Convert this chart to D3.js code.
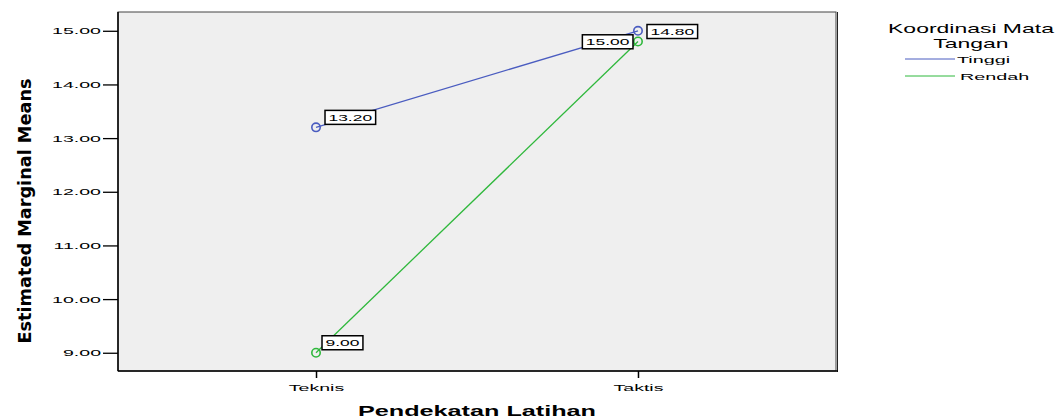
<!DOCTYPE html>
<html><head><meta charset="utf-8">
<script src="https://cdn.jsdelivr.net/npm/d3@7"></script>
<style>html,body{margin:0;padding:0;background:#fff;}svg{display:block;}</style>
</head><body>
<svg id="chart" width="1062" height="419"></svg>
<script>
const categories = ["Teknis", "Taktis"];
const seriesNames = ["Tinggi", "Rendah"];
const tinggiValues = [13.20, 15.00];
const rendahValues = [9.00, 14.80];
const yTicks = [9, 10, 11, 12, 13, 14, 15];
const xTitle = "Pendekatan Latihan";
const yTitle = "Estimated Marginal Means";
const legendTitle = ["Koordinasi Mata", "Tangan"];

const colors = ["#4a5cc0", "#2fb83c"];
const series = [
  {name: seriesNames[0], values: tinggiValues, color: colors[0]},
  {name: seriesNames[1], values: rendahValues, color: colors[1]}
];

const svg = d3.select("#chart");
const L = 118, R = 836, T = 12, B = 371;
const font = "Arial, 'Liberation Sans', sans-serif";

const x = d3.scalePoint().domain(categories).range([L, R]).padding(0.615);
const y = d3.scaleLinear().domain([8.66, 15.35]).range([B, T]);

function stretch(sel, sx) {
  sel.each(function() {
    const n = this.getComputedTextLength();
    d3.select(this).attr("textLength", n * sx).attr("lengthAdjust", "spacingAndGlyphs");
  });
}

// plot background
svg.append("rect").attr("x", L).attr("y", T).attr("width", R - L).attr("height", B - T)
  .attr("fill", "#efefef").attr("stroke", "#444").attr("stroke-width", 1);
svg.append("line").attr("x1", R + 1.5).attr("x2", R + 1.5).attr("y1", T).attr("y2", B + 1)
  .attr("stroke", "#222").attr("stroke-width", 1);

// y axis
const yAxis = d3.axisLeft(y).tickValues(yTicks).tickFormat(d3.format(".2f")).tickSize(15).tickPadding(2);
const gy = svg.append("g").attr("transform", `translate(${L},0)`).call(yAxis);
gy.select(".domain").attr("stroke", "#000").attr("stroke-width", 1.5).attr("d", `M0,${T}V${B}`);
gy.selectAll(".tick line").attr("stroke", "#000").attr("stroke-width", 1.3);
gy.selectAll(".tick text").attr("font-family", font).attr("font-size", 8.5).attr("fill", "#000")
  .attr("dy", "0.35em").call(stretch, 2.3);

// x axis
const xAxis = d3.axisBottom(x).tickSize(7).tickPadding(7);
const gx = svg.append("g").attr("transform", `translate(0,${B})`).call(xAxis);
gx.select(".domain").attr("stroke", "#000").attr("stroke-width", 1.5).attr("d", `M${L},0H${R + 2}`);
gx.selectAll(".tick line").attr("stroke", "#000").attr("stroke-width", 1.5);
gx.selectAll(".tick text").attr("font-family", font).attr("font-size", 8.5).attr("fill", "#000")
  .call(stretch, 2.3);

// titles
svg.append("text").attr("x", (L + R) / 2).attr("y", 416).attr("text-anchor", "middle")
  .attr("font-family", font).attr("font-weight", "bold").attr("font-size", 14).attr("fill", "#000")
  .text(xTitle).call(stretch, 1.8);
svg.append("text").attr("transform", "translate(31,211) rotate(-90)").attr("text-anchor", "middle")
  .attr("font-family", "'Liberation Sans Narrow', 'DejaVu Sans Condensed', 'Roboto Condensed', sans-serif")
  .attr("font-weight", "bold").attr("font-size", 18).attr("fill", "#000")
  .attr("textLength", 265).attr("lengthAdjust", "spacingAndGlyphs")
  .text(yTitle);

// lines
const line = d3.line().x((d, i) => x(categories[i])).y(d => y(d));
svg.append("g").selectAll("path").data(series).join("path")
  .attr("d", d => line(d.values)).attr("fill", "none")
  .attr("stroke", d => d.color).attr("stroke-width", 1.3);

// markers
series.forEach(s => {
  svg.append("g").selectAll("circle").data(s.values).join("circle")
    .attr("cx", (d, i) => x(categories[i])).attr("cy", d => y(d)).attr("r", 4.2)
    .attr("fill", "none").attr("stroke", s.color).attr("stroke-width", 1.6);
});

// data labels (placement: default right-up, collision case left-down)
function placement(si, ci) {
  if (si === 0 && ci === 1) return {side: "left", dx: -5, dy: 4};
  return {side: "right", dx: si === 1 && ci === 0 ? 6 : 9, dy: -17};
}
const lblG = svg.append("g");
series.forEach((s, si) => {
  s.values.forEach((v, ci) => {
    const px = x(categories[ci]), py = y(v);
    const p = placement(si, ci);
    const g = lblG.append("g");
    const t = g.append("text").attr("font-family", font).attr("font-size", 8.5).attr("fill", "#000")
      .text(d3.format(".2f")(v));
    stretch(t, 2.05);
    const tw = +t.attr("textLength");
    const bw = tw + 7, bh = 14;
    const bx = p.side === "right" ? px + p.dx : px + p.dx - bw;
    const by = py + p.dy;
    g.insert("rect", "text").attr("x", bx).attr("y", by).attr("width", bw).attr("height", bh)
      .attr("fill", "#fff").attr("stroke", "#000").attr("stroke-width", 1.5);
    t.attr("x", bx + 3.5).attr("y", by + 10.5);
  });
});

// legend
const lg = svg.append("g");
legendTitle.forEach((tt, i) => {
  lg.append("text").attr("x", 971).attr("y", 33 + i * 15).attr("text-anchor", "middle")
    .attr("font-family", font).attr("font-size", 13.5).attr("fill", "#000").text(tt).call(stretch, 1.7);
});
series.forEach((s, i) => {
  const yy = 59 + i * 17;
  lg.append("line").attr("x1", 905).attr("x2", 955).attr("y1", yy).attr("y2", yy)
    .attr("stroke", s.color).attr("stroke-width", 1);
  lg.append("text").attr("x", i === 0 ? 957 : 960).attr("y", yy + 4).attr("font-family", font)
    .attr("font-size", 9).attr("fill", "#000").text(s.name).call(stretch, 2.2);
});
</script>
</body></html>
